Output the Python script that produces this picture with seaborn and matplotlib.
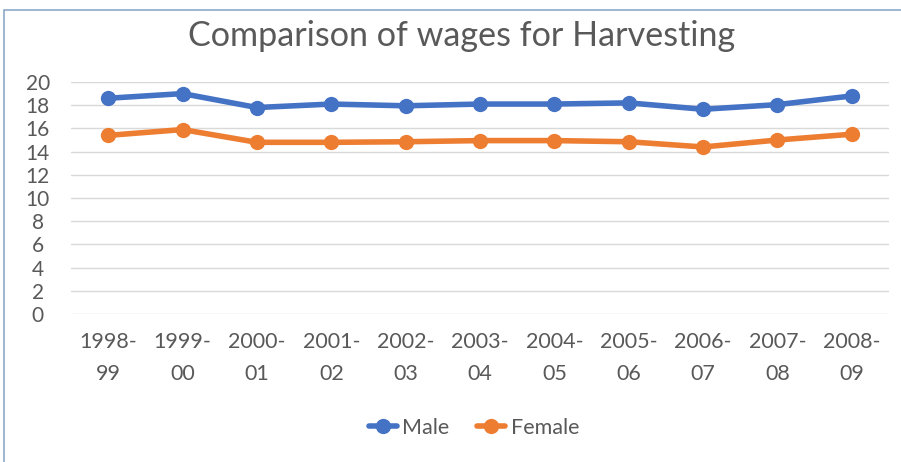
import matplotlib
matplotlib.use("Agg")
import matplotlib.pyplot as plt
import seaborn as sns
import pandas as pd
from matplotlib.patches import Rectangle

years = ["1998-\n99", "1999-\n00", "2000-\n01", "2001-\n02", "2002-\n03", "2003-\n04",
         "2004-\n05", "2005-\n06", "2006-\n07", "2007-\n08", "2008-\n09"]
male = [18.6, 19.0, 17.8, 18.1, 17.95, 18.1, 18.1, 18.2, 17.65, 18.05, 18.8]
female = [15.4, 15.9, 14.8, 14.8, 14.85, 14.95, 14.95, 14.85, 14.4, 15.0, 15.5]
series = ["Male", "Female"]
colors = ["#4472C4", "#ED7D31"]
yticks = list(range(0, 21, 2))

df = pd.DataFrame({
    "Year": years * 2,
    "Wage": male + female,
    "Series": ["Male"] * len(years) + ["Female"] * len(years),
})

sns.set_theme(style="white")
plt.rcParams['font.family'] = ['Lato', 'DejaVu Sans']

fig = plt.figure(figsize=(9.01, 4.62), dpi=100)
ax = fig.add_axes([0.0788, 0.3203, 0.9079, 0.5022])

sns.lineplot(data=df, x="Year", y="Wage", hue="Series", hue_order=series,
             palette=colors, marker="o", markersize=11, linewidth=4.0,
             markeredgewidth=0, ax=ax, sort=False, legend=True)

ax.set_xlim(-0.5, len(years) - 0.5)
ax.set_ylim(0, 20)
ax.set_yticks(yticks)
ax.set_yticklabels([str(v) for v in yticks])
ax.yaxis.grid(True, color="#D9D9D9", linewidth=1)
ax.set_axisbelow(True)
for s in ax.spines.values():
    s.set_visible(False)
ax.set_xlabel("")
ax.set_ylabel("")
ax.tick_params(axis="y", length=0, pad=24, labelsize=15, labelcolor="#595959")
ax.tick_params(axis="x", length=0, pad=13, labelsize=15.5, labelcolor="#595959")
for lab in ax.get_xticklabels():
    lab.set_linespacing(1.75)
for lab in ax.get_yticklabels():
    lab.set_horizontalalignment("center")

fig.text(0.512, 0.922, "Comparison of wages for Harvesting", ha="center", va="center",
         fontsize=24.6, color="#595959")

handles, labels = ax.get_legend_handles_labels()
ax.get_legend().remove()
fig.legend(handles, labels, loc="center", bbox_to_anchor=(0.526, 0.074), ncol=2,
           frameon=False, fontsize=15.5, handlelength=1.3, columnspacing=1.3,
           handletextpad=0.25, labelcolor="#595959")

fig.patches.append(Rectangle((4 / 901, -0.1), 1.2, 1 - 10 / 462 + 0.1, transform=fig.transFigure,
                             fill=False, edgecolor="#8EA9C8", linewidth=1.2))

fig.savefig("out.png", dpi=100)
